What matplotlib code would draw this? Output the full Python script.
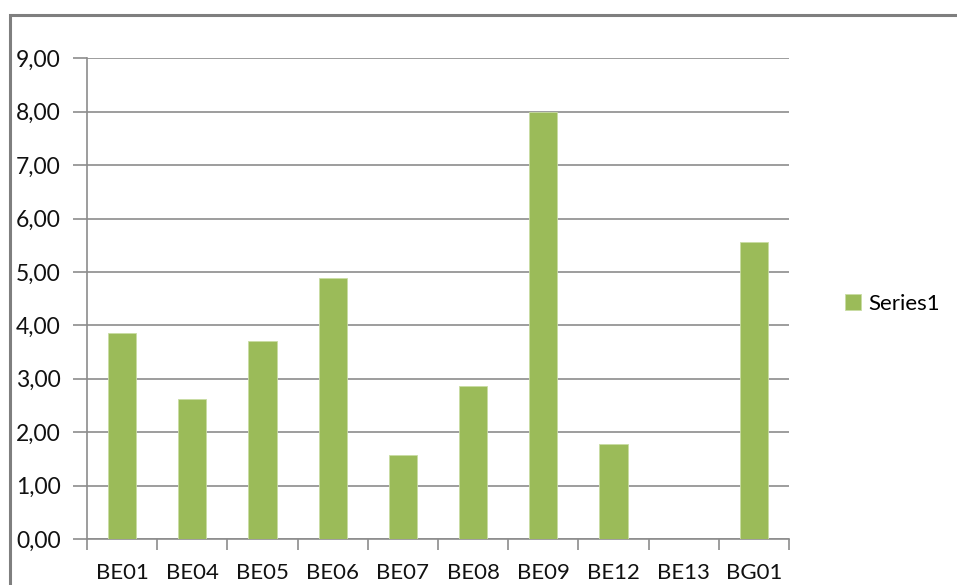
import matplotlib
matplotlib.use("Agg")
import matplotlib.pyplot as plt
import numpy as np
from matplotlib.patches import Rectangle

categories = ["BE01", "BE04", "BE05", "BE06", "BE07", "BE08", "BE09", "BE12", "BE13", "BG01"]
values = [3.85, 2.62, 3.71, 4.89, 1.57, 2.87, 8.00, 1.78, 0.0, 5.56]
series_name = "Series1"
y_ticks = [0, 1, 2, 3, 4, 5, 6, 7, 8, 9]

plt.rcParams["font.family"] = ["Lato", "DejaVu Sans"]

fig = plt.figure(figsize=(9.57, 5.85), dpi=100)
ax = fig.add_axes([87 / 957, 1 - 539 / 585, (789 - 87) / 957, (539 - 58.3) / 585])

bar_color = "#9BBB59"
grid_color = "#8C8C8C"

x = np.arange(len(categories))
ax.bar(x, values, width=0.4, color=bar_color, edgecolor="#C9DCA3", linewidth=0.6,
       label=series_name, zorder=3)

ax.set_xlim(-0.5, len(categories) - 0.5)
ax.set_ylim(0, 9)
ax.set_yticks(y_ticks)
ax.set_yticklabels([f"{v:.2f}".replace(".", ",") for v in y_ticks], fontsize=16.5, color="#111111")
ax.yaxis.grid(True, color=grid_color, linewidth=1.2, zorder=0)
ax.set_axisbelow(True)

ax.set_xticks(x)
ax.set_xticklabels(categories, fontsize=16, color="#111111")
ax.set_xticks(np.arange(len(categories) + 1) - 0.5, minor=True)
ax.tick_params(axis="x", which="major", length=0, pad=17)
ax.tick_params(axis="x", which="minor", length=8, width=1.2, color=grid_color, direction="out")
ax.tick_params(axis="y", length=10, width=1.2, color=grid_color, pad=9)

for side in ["top", "right"]:
    ax.spines[side].set_visible(False)
for side in ["left", "bottom"]:
    ax.spines[side].set_color(grid_color)
    ax.spines[side].set_linewidth(1.2)

leg = fig.legend(loc="center left", bbox_to_anchor=(825 / 957, 1 - 304 / 585), frameon=False,
                 fontsize=16, handlelength=0.7, handleheight=0.7, handletextpad=0.35)

# chart frame
fig.patches.append(Rectangle((10 / 957, -0.1), 1.2, 1 - 15 / 585 + 0.1, transform=fig.transFigure,
                             fill=False, edgecolor="#7F7F7F", linewidth=2.2, zorder=0))

fig.savefig("out.png", dpi=100, facecolor="white")
